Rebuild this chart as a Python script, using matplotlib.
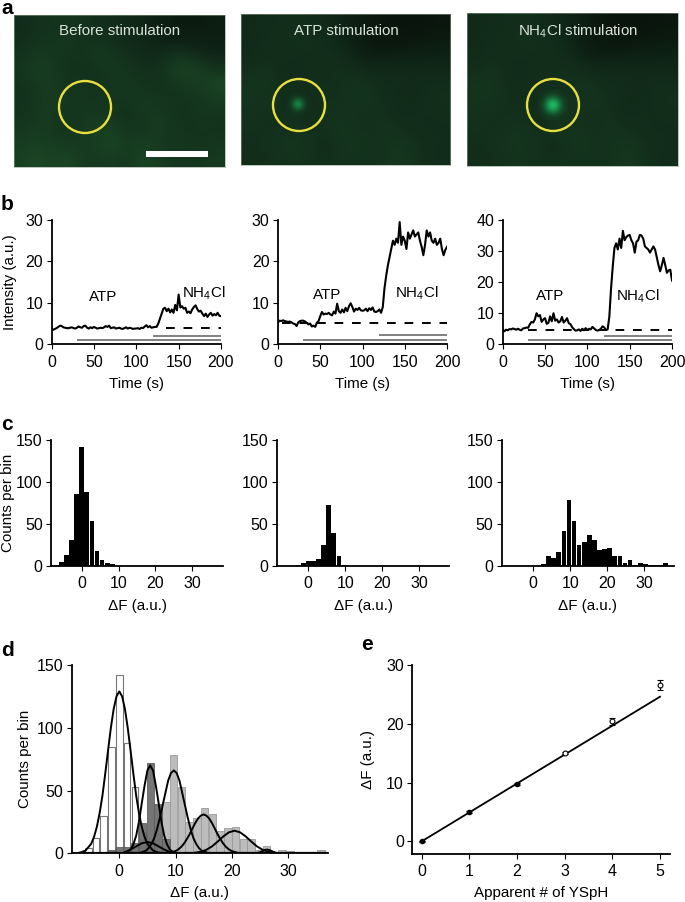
#!/usr/bin/env python3
"""Five-panel figure: YSpH images, intensity traces, dF histograms, calibration."""
import numpy as np
import matplotlib
matplotlib.use("Agg")
import matplotlib.pyplot as plt
from matplotlib.colors import LinearSegmentedColormap
from matplotlib.patches import Circle, Rectangle

W, H = 685, 902
FT, FL = 11.5, 10.9
plt.rcParams.update({
    "font.family": ["Liberation Sans", "DejaVu Sans"],
    "font.size": FT,
    "mathtext.fontset": "custom",
    "mathtext.rm": "Liberation Sans",
    "mathtext.default": "regular",
    "axes.linewidth": 1.3,
    "xtick.major.size": 3.5,
    "ytick.major.size": 3.5,
    "xtick.major.pad": 4,
    "ytick.major.pad": 2.5,
})

# ---------- Data: traces (2 s steps) ----------
time_s = list(range(0, 201, 2))
trace_1 = [3.8, 3.5, 3.7, 3.9, 4.2, 4.5, 4.4, 4.1, 4.0, 3.9,
           3.9, 4.0, 4.1, 3.9, 3.8, 4.0, 4.3, 4.1, 4.0, 4.4,
           4.5, 4.0, 3.8, 4.1, 3.9, 4.2, 4.0, 3.8, 3.9, 4.0,
           3.9, 4.1, 4.4, 4.2, 4.5, 3.9, 4.0, 4.1, 3.8, 3.9,
           4.0, 3.8, 3.7, 3.9, 4.1, 3.8, 4.0, 3.9, 3.7, 3.8,
           3.8, 3.9, 3.7, 4.0, 3.9, 4.3, 4.6, 4.1, 4.4, 4.0,
           4.1, 4.2, 4.2, 5.0, 6.2, 7.4, 8.6, 8.8, 8.0, 8.6,
           7.7, 8.4, 7.6, 9.5, 8.2, 12.0, 8.9, 9.2, 8.6, 8.8,
           7.6, 7.9, 7.5, 8.4, 9.0, 9.4, 8.5, 7.9, 8.1, 7.4,
           6.8, 7.4, 6.6, 7.2, 7.6, 6.9, 7.3, 7.0, 7.6, 6.9, 6.8]
trace_2 = [5.3, 5.7, 5.6, 5.8, 5.6, 5.5, 5.4, 5.5, 5.3, 5.0,
           4.9, 4.4, 5.3, 5.6, 5.7, 5.7, 5.5, 5.2, 4.8, 5.0,
           4.3, 4.5, 4.2, 5.2, 5.6, 6.8, 7.8, 7.2, 7.4, 7.3,
           7.6, 7.2, 7.0, 7.9, 7.4, 9.8, 8.0, 7.6, 8.4, 7.7,
           8.8, 8.0, 9.2, 9.9, 9.0, 7.9, 8.6, 8.3, 8.8, 8.2,
           8.1, 8.2, 8.6, 8.0, 8.7, 8.3, 8.9, 7.9, 7.8, 8.0,
           8.4, 7.6, 9.0, 13.5, 16.5, 19.0, 21.0, 23.0, 25.0, 24.0,
           25.5, 24.5, 29.5, 24.0, 26.0, 25.0, 23.0, 27.0, 25.5, 26.5,
           27.5, 26.0, 26.5, 27.0, 25.0, 23.5, 21.5, 24.0, 27.5, 26.0,
           27.0, 25.0, 24.5, 25.5, 24.0, 24.5, 25.5, 23.0, 21.5, 22.8, 23.5]
trace_3 = [4.6, 4.2, 4.7, 4.5, 4.9, 4.8, 5.1, 4.9, 4.7, 5.0,
           4.7, 4.5, 5.1, 5.2, 5.4, 5.3, 6.4, 7.2, 7.0, 8.0,
           10.0, 9.0, 9.4, 7.2, 8.0, 8.4, 6.6, 6.9, 9.0, 7.4,
           10.0, 7.6, 8.0, 7.0, 7.4, 8.8, 7.0, 7.6, 8.4, 6.8,
           6.5, 5.5, 4.9, 4.4, 4.5, 4.8, 4.3, 5.0, 4.5, 5.2,
           4.6, 5.0, 4.8, 5.6, 5.1, 4.6, 4.4, 4.6, 5.0, 5.8,
           5.4, 4.6, 4.8, 9.0, 18.0, 25.0, 31.0, 32.5, 30.5, 34.0,
           31.0, 36.5, 33.5, 34.5, 35.0, 35.2, 33.5, 32.5, 29.5, 33.0,
           33.5, 35.2, 35.0, 34.0, 31.5, 31.0, 30.5, 29.5, 30.5, 31.5,
           30.5, 28.0, 25.5, 23.5, 25.5, 27.8, 25.5, 23.0, 23.8, 24.0, 20.5]
baseline_start = [135, 5, 30]
baseline_level = [4.0, 5.2, 4.5]
atp_level = [1.0, 1.1, 1.3]
nh4_level = [2.0, 2.2, 2.8]

# ---------- Data: histograms ----------
bin_width = 1.38
bins_1 = list(range(-6, 7))
counts_1 = [0.5, 1, 4, 12, 30, 85, 142, 88, 53, 17, 7, 3, 2]
bins_2 = list(range(-2, 8))
counts_2 = [1, 3, 5, 5, 8, 24, 72, 39, 11, 1]
bins_3 = list(range(2, 27))
counts_3 = [2, 11, 9, 16, 41, 78, 53, 25, 28, 36, 31, 18, 20, 21, 11, 11, 3, 6,
            1, 3, 2, 1, 0.5, 0.5, 3]

# ---------- Data: fitted curves ----------
fit_x = [[-8, -7, -6, -5, -4.5, -4, -3.5, -3, -2.5, -2, -1.5, -1, -0.5, 0,
          0.5, 1, 1.5, 2, 2.5, 3, 3.5, 4, 4.5, 5, 6, 7, 8],
         [1.5, 2, 2.5, 3, 3.5, 4, 4.5, 5, 5.5, 6, 6.5, 7, 7.5, 8, 8.5, 9, 9.5],
         [1, 2, 3, 4, 5, 6, 7, 8, 9],
         [3.7, 4.7, 5.2, 5.7, 6.2, 6.7, 7.2, 7.7, 8.2, 8.7, 9.2, 9.7, 10.2,
          10.7, 11.2, 11.7, 12.2, 12.7, 13.2, 13.7, 14.2, 14.7, 15.7],
         [9, 10, 10.5, 11, 11.5, 12, 12.5, 13, 13.5, 14, 14.5, 15, 15.5, 16,
          16.5, 17, 17.5, 18, 18.5, 19, 19.5, 20, 21],
         [13.5, 14.5, 15.5, 16.5, 17.5, 18.5, 19.5, 20.5, 21.5, 22.5, 23.5,
          24.5, 25.5, 26.5, 27.5],
         [24.3, 24.8, 25.3, 25.8, 26.3, 26.8, 27.3, 27.8, 28.3]]
fit_y = [[0, 0.5, 2.2, 7.6, 13, 21, 32, 46, 63.5, 82, 100, 115, 125, 129,
          125, 115, 100, 82, 63.5, 46, 32, 21, 13, 7.6, 2.2, 0.5, 0],
         [1.2, 3, 7, 14, 25, 40, 54, 66, 70, 66, 54, 40, 25, 14, 7, 3, 1.2],
         [1, 3, 5.5, 8, 9, 8, 5.5, 3, 1],
         [0.4, 2, 4, 7.3, 12, 19, 28, 38, 48, 58, 64, 66, 64, 58, 48, 38, 28,
          19, 12, 7.3, 4, 2, 0.4],
         [0.5, 1.8, 3.1, 5, 7.7, 11.2, 15, 19.7, 24, 27.7, 30, 31, 30, 27.7,
          24, 19.7, 15, 11.2, 7.7, 5, 3.1, 1.8, 0.5],
         [0.5, 1.25, 2.8, 5.5, 9.3, 13.4, 16.7, 18, 16.7, 13.4, 9.3, 5.5, 2.8,
          1.25, 0.5],
         [0.1, 0.5, 1.4, 2.5, 3, 2.5, 1.4, 0.5, 0.1]]

# ---------- Data: calibration ----------
n_ysph = [0, 1, 2, 3, 4, 5]
mean_df = [0, 5.0, 9.7, 15.0, 20.4, 26.6]
err_df = [0.1, 0.15, 0.2, 0.2, 0.6, 0.8]
line_x = [0, 5]
line_y = [0, 24.6]

# ---------- Data: coarse fluorescence maps (panel a) ----------
field_1 = [[.30, .34, .36, .38, .35, .32, .30, .26, .22, .16, .12, .10, .12, .14],
           [.30, .36, .38, .40, .36, .34, .30, .28, .24, .18, .16, .16, .15, .15],
           [.34, .42, .40, .38, .36, .44, .40, .32, .28, .26, .34, .30, .24, .22],
           [.38, .48, .44, .36, .34, .36, .42, .38, .34, .32, .48, .56, .44, .34],
           [.36, .42, .44, .36, .38, .36, .38, .42, .36, .36, .38, .44, .46, .60],
           [.34, .40, .46, .42, .40, .36, .40, .38, .44, .38, .36, .38, .40, .44],
           [.36, .42, .44, .38, .40, .42, .38, .34, .42, .44, .38, .36, .40, .38],
           [.40, .44, .42, .36, .42, .48, .50, .38, .36, .46, .40, .36, .38, .36],
           [.46, .50, .46, .44, .42, .46, .56, .44, .50, .42, .38, .40, .36, .40],
           [.48, .60, .50, .58, .44, .42, .46, .40, .56, .50, .40, .38, .42, .44]]
field_2 = [[.26, .30, .30, .32, .30, .26, .22, .16, .10, .06, .05, .05, .06, .08],
           [.26, .30, .32, .34, .32, .30, .26, .16, .10, .07, .06, .07, .08, .10],
           [.28, .32, .30, .32, .34, .32, .28, .20, .12, .10, .12, .14, .18, .18],
           [.30, .34, .32, .28, .30, .32, .34, .30, .24, .26, .28, .26, .24, .24],
           [.36, .40, .32, .30, .34, .32, .32, .36, .34, .30, .28, .28, .30, .30],
           [.38, .36, .34, .30, .32, .34, .32, .38, .36, .32, .30, .26, .32, .34],
           [.36, .34, .32, .34, .30, .32, .36, .34, .34, .34, .28, .32, .30, .32],
           [.34, .32, .34, .36, .32, .34, .38, .36, .30, .38, .32, .30, .30, .30],
           [.32, .34, .36, .40, .36, .30, .34, .40, .36, .34, .40, .34, .32, .30],
           [.30, .32, .34, .38, .34, .32, .34, .36, .34, .36, .42, .36, .30, .30]]
spot_kernel = [[.00, .02, .04, .05, .04, .02, .00],
               [.02, .08, .18, .25, .18, .08, .02],
               [.04, .18, .50, .72, .50, .18, .04],
               [.05, .25, .72, 1.0, .72, .25, .05],
               [.04, .18, .50, .72, .50, .18, .04],
               [.02, .08, .18, .25, .18, .08, .02],
               [.00, .02, .04, .05, .04, .02, .00]]
image_titles = ["Before stimulation", "ATP stimulation", "NH$_4$Cl stimulation"]

FIELD_CMAP = LinearSegmentedColormap.from_list(
    "field_green", ["#08100a", "#13301c", "#1f5029", "#2f7a40"])


def ax_px(left, right, top, bottom):
    """Axes from reference pixel edges."""
    return fig.add_axes([left / W, 1 - bottom / H, (right - left) / W, (bottom - top) / H])


def clean(ax):
    for s in ("top", "right"):
        ax.spines[s].set_visible(False)
    ax.patch.set_alpha(0)


def ylabel_px(ax, text, px):
    """y label with its centre line at a reference pixel column (label anchors on its right edge)."""
    ax.set_ylabel(text, fontsize=FL)
    pos = ax.get_position()
    ax.yaxis.set_label_coords(((px + 7) / W - pos.x0) / pos.width, 0.5)


def image_panel(left, right, top, bottom, field, title, title_x, circ, spot=None, bar=False):
    ax = ax_px(left, right, top, bottom)
    w, h = right - left, bottom - top
    ax.imshow(field, cmap=FIELD_CMAP, vmin=0, vmax=1, interpolation="bicubic",
              extent=(0, w, h, 0), aspect="auto")
    if spot is not None:
        sx, sy, half, peak = spot
        kern = np.array(spot_kernel)
        rgba = np.zeros(kern.shape + (4,))
        rgba[..., 0], rgba[..., 1], rgba[..., 2] = 0.12, 0.85, 0.45
        rgba[..., 3] = kern * peak
        ax.imshow(rgba, interpolation="bicubic", aspect="auto",
                  extent=(sx - left - half, sx - left + half, sy - top + half, sy - top - half))
    ax.add_patch(Circle((circ[0] - left, circ[1] - top), 26, fill=False, ec="#e8e040", lw=1.7))
    if bar:
        ax.add_patch(Rectangle((146 - left, 151 - top), 62, 6, fc="white", ec="none"))
    ax.text(title_x - left, 31 - top, title, color="#d8e2d8", ha="center", va="center", fontsize=10.9)
    ax.set_xlim(0, w)
    ax.set_ylim(h, 0)
    ax.set_xticks([])
    ax.set_yticks([])
    for s in ax.spines.values():
        s.set_linewidth(0.4)
        s.set_color("#8a9a8a")


def trace_panel(left, right, top, bottom, y, ymax, yticks, i, atp_xy, nh4_xy):
    ax = ax_px(left, right, top, bottom)
    clean(ax)
    ax.plot([baseline_start[i], 200], [baseline_level[i]] * 2, color="black", lw=1.4,
            dashes=(4.5, 4.5))
    ax.plot([30, 200], [atp_level[i]] * 2, color="#808080", lw=1.4, solid_capstyle="butt")
    ax.plot([120, 200], [nh4_level[i]] * 2, color="#808080", lw=1.4, solid_capstyle="butt")
    ax.plot(time_s, y, color="black", lw=1.5, solid_joinstyle="round")
    ax.set_xlim(0, 200)
    ax.set_ylim(0, ymax)
    ax.set_xticks([0, 50, 100, 150, 200])
    ax.set_yticks(yticks)
    ax.set_xlabel("Time (s)", fontsize=FL, labelpad=5)
    ax.text(*atp_xy, "ATP", fontsize=FL, ha="center", va="center")
    ax.text(*nh4_xy, "NH$_4$Cl", fontsize=FL, ha="center", va="center")
    return ax


def hist_panel(left, right, x0, bins, counts):
    ax = ax_px(left, right, 440, 565.5)
    clean(ax)
    ax.bar(np.array(bins) * bin_width, counts, width=bin_width * 0.92, color="black", lw=0)
    ax.set_xlim((left - x0) / 3.69, (right - x0) / 3.69)
    ax.set_ylim(0, 150)
    ax.set_xticks([0, 10, 20, 30])
    ax.set_yticks([0, 50, 100, 150])
    ax.set_xlabel("\u0394F (a.u.)", fontsize=FL, labelpad=6)
    return ax


fig = plt.figure(figsize=(W / 100, H / 100), dpi=100, facecolor="white")

# ---------- Panel a ----------
image_panel(14, 225, 15, 167, field_1, image_titles[0], 120, (85, 107), bar=True)
image_panel(241, 450, 14, 165, field_2, image_titles[1], 346, (299, 105), spot=(298, 104, 11, 0.6))
image_panel(467, 678, 13, 166, field_2, image_titles[2], 578, (553, 105), spot=(553, 105, 15, 1.0))

# ---------- Panel b ----------
ax_b1 = trace_panel(51.5, 221, 220, 344.3, trace_1, 30, [0, 10, 20, 30], 0, (61, 11.4), (180, 12.3))
ylabel_px(ax_b1, "Intensity (a.u.)", 10)
trace_panel(278, 447, 220, 344.3, trace_2, 30, [0, 10, 20, 30], 1, (58, 11.9), (164, 12.4))
trace_panel(502.7, 672, 220, 344.3, trace_3, 40, [0, 10, 20, 30, 40], 2, (56, 15.7), (160, 15.4))

# ---------- Panel c ----------
ax_c1 = hist_panel(51, 223, 81.7, bins_1, counts_1)
ylabel_px(ax_c1, "Counts per bin", 8)
hist_panel(276.7, 449.3, 308.3, bins_2, counts_2)
hist_panel(501.7, 674, 533.3, bins_3, counts_3)

# ---------- Panel d ----------
ax_d = ax_px(71.7, 328, 665, 853.3)
clean(ax_d)
ax_d.bar(np.array(bins_1) * bin_width, counts_1, width=bin_width * 0.85, fc="white", ec="#777777", lw=0.8)
ax_d.bar(np.array(bins_3) * bin_width, counts_3, width=bin_width * 0.95, fc="#bcbcbc", ec="#999999", lw=0.6)
ax_d.bar(np.array(bins_2) * bin_width, counts_2, width=bin_width * 0.95, fc="#6e6e6e", ec="#5a5a5a", lw=0.6, alpha=0.95)
for cx, cy in zip(fit_x, fit_y):
    ax_d.plot(cx, cy, color="black", lw=1.4)
ax_d.plot([-7, 37.5], [0, 0], color="black", lw=1.6)
ax_d.set_xlim((71.7 - 119.3) / 5.62, (328 - 119.3) / 5.62)
ax_d.set_ylim(0, 150)
ax_d.set_xticks([0, 10, 20, 30])
ax_d.set_yticks([0, 50, 100, 150])
ax_d.set_xlabel("\u0394F (a.u.)", fontsize=FL, labelpad=5)
ylabel_px(ax_d, "Counts per bin", 25)

# ---------- Panel e ----------
ax_e = ax_px(412.3, 670, 665, 854)
clean(ax_e)
ax_e.plot(line_x, line_y, color="black", lw=1.3)
ax_e.errorbar(n_ysph[:3], mean_df[:3], yerr=err_df[:3], fmt="o", ms=3, color="black", capsize=2, lw=0.9)
ax_e.errorbar(n_ysph[3:], mean_df[3:], yerr=err_df[3:], fmt="o", ms=3.5, mfc="white", mec="black",
              mew=0.8, color="black", capsize=2, lw=0.9)
ax_e.set_xlim(-0.2, 5.21)
ax_e.set_ylim(-2.17, 30)
ax_e.set_xticks(n_ysph)
ax_e.set_yticks([0, 10, 20, 30])
ax_e.set_xlabel("Apparent # of YSpH", fontsize=FL, labelpad=5)
ylabel_px(ax_e, "\u0394F (a.u.)", 368)

# ---------- Panel letters ----------
for letter, px, py in [("a", 1, 8), ("b", 1, 204), ("c", 1, 424), ("d", 1, 650), ("e", 361, 645)]:
    fig.text(px / W, 1 - py / H, letter, fontsize=15, fontweight="bold", ha="left", va="center")

fig.savefig("out.png", dpi=100)
plt.close(fig)
